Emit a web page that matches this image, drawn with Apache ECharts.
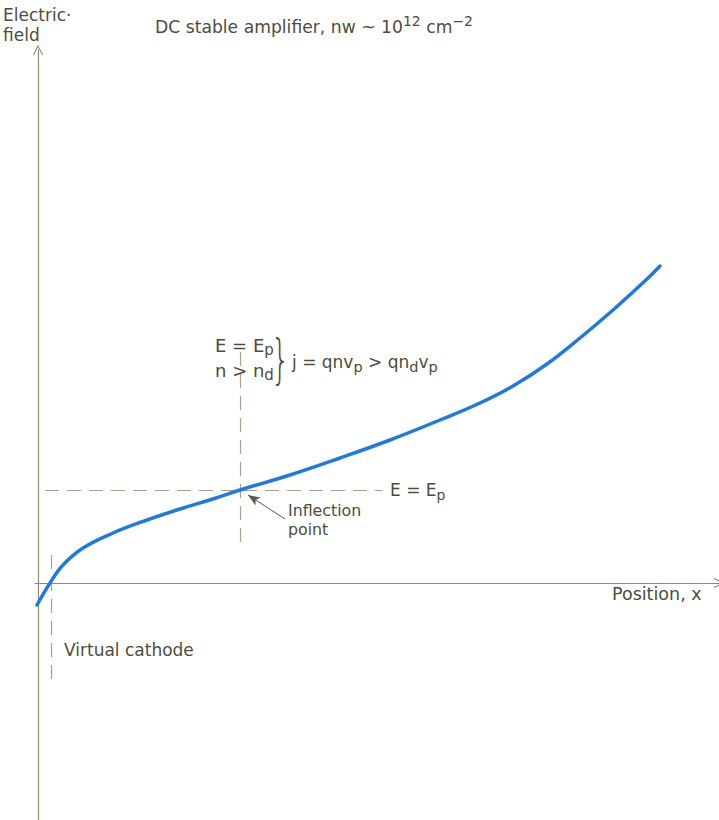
<!DOCTYPE html>
<html><head><meta charset="utf-8">
<script src="https://cdn.jsdelivr.net/npm/echarts@6/dist/echarts.min.js"></script>
<style>html,body{margin:0;padding:0;background:#fff}#c{width:719px;height:820px}</style>
</head><body><div id="c"></div>
<script>
// Curve: position x (arbitrary units) vs electric field (arbitrary units)
const positions = [-1, 12, 25, 45, 75, 109, 142, 175, 202, 252, 302, 352, 402, 442, 475, 509, 542, 575, 609, 622];
const fieldValues = [-22, 0, 18, 35, 50, 63, 74, 84, 93, 108, 125, 143, 163, 180, 197, 219, 245, 273, 304, 317];
// Reference levels
const fieldEp = 93;          // E = Ep level
const inflectionX = 202;     // inflection point position
const virtualCathodeX = 13;  // virtual cathode position
const xRange = [-3, 681];
const yRange = [-237, 533];

const textColor = '#4d4d3a';
const axisColor = '#8c8c74';
const FONT = 'DejaVu Sans';
const chevron = 'path://M0,10 L5,0 L10,10 L9,10.6 L5,2.2 L1,10.6 Z';

const chart = echarts.init(document.getElementById('c'), null, {renderer: 'svg'});
const txt = (x, y, text, size, extra) => ({
  type: 'text', x: x, y: y, silent: true,
  style: Object.assign({text: text, fill: textColor, fontSize: size, fontFamily: FONT, verticalAlign: 'middle', textVerticalAlign: 'middle'}, extra || {})
});
const sub = (size) => ({fontSize: size, fontFamily: FONT, fill: textColor, padding: [9, 0, 0, 0]});
chart.setOption({
  animation: false,
  grid: {left: 35, right: 0, top: 50, bottom: 0},
  xAxis: {type: 'value', min: xRange[0], max: xRange[1], splitLine: {show: false},
    axisTick: {show: false}, axisLabel: {show: false},
    axisLine: {onZero: true, lineStyle: {color: axisColor, width: 1.2}, symbol: ['none', chevron], symbolSize: [10, 12]}},
  yAxis: {type: 'value', min: yRange[0], max: yRange[1], splitLine: {show: false},
    axisTick: {show: false}, axisLabel: {show: false},
    axisLine: {onZero: true, lineStyle: {color: axisColor, width: 1.2}, symbol: ['none', chevron], symbolSize: [10, 12]}},
  series: [
    {type: 'line', data: positions.map((x, i) => [x, fieldValues[i]]), smooth: 0.4, showSymbol: false,
     lineStyle: {color: '#1f7ae0', width: 3.5, cap: 'round'}, z: 5,
     markLine: {silent: true, symbol: 'none', label: {show: false},
       lineStyle: {color: '#a4a48c', type: [14, 8], width: 1.2},
       data: [
         [{coord: [7, fieldEp]}, {coord: [344, fieldEp]}],
         [{coord: [inflectionX, 231]}, {coord: [inflectionX, 37]}],
         [{coord: [virtualCathodeX, 28]}, {coord: [virtualCathodeX, -102]}]
       ]}},
    {type: 'line', data: [], markLine: {silent: true, symbol: ['none', 'arrow'], symbolSize: [7, 12], label: {show: false},
       lineStyle: {color: '#5a5a48', type: 'solid', width: 1},
       data: [[{coord: [247, 64]}, {coord: [210, 88]}]]}}
  ],
  graphic: [
    txt(3, 15, 'Electric·', 17),
    txt(3, 35, 'field', 17),
    txt(155, 27, 'DC stable amplifier, nw ~ 10{s|12} cm{s|−2}', 17.2,
      {rich: {s: {fontSize: 14, fontFamily: FONT, fill: textColor, padding: [0, 0, 12, 0]}}}),
    txt(215, 345, 'E = E{b|p}', 18, {rich: {b: sub(15)}}),
    txt(215, 370, 'n > n{b|d}', 18, {rich: {b: sub(15)}}),
    {type: 'text', x: 271, y: 359, silent: true, scaleX: 0.55,
     style: {text: '}', fill: textColor, fontSize: 54, fontFamily: 'DejaVu Sans', fontWeight: 200, verticalAlign: 'middle', textVerticalAlign: 'middle'}},
    txt(292, 362, 'j = qnv{b|p} > qn{b|d}v{b|p}', 17, {rich: {b: sub(14.5)}}),
    txt(390, 490, 'E = E{b|p}', 17, {rich: {b: sub(14)}}),
    txt(288, 510, 'Inflection', 15.8),
    txt(288, 529, 'point', 15.8),
    txt(64, 650, 'Virtual cathode', 17),
    txt(612, 594, 'Position, x', 17.5)
  ]
});
</script></body></html>
